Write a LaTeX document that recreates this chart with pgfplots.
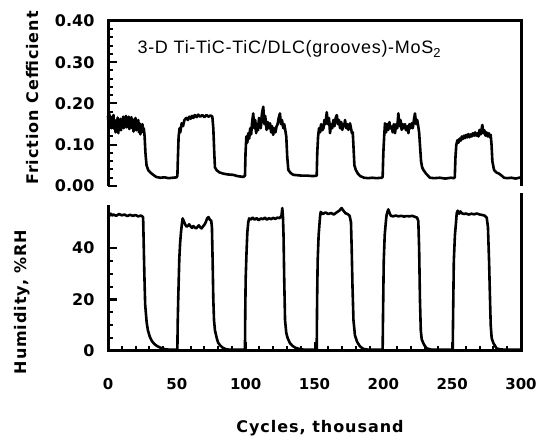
\documentclass[border=0pt]{standalone}
\usepackage{pgfplots}
\pgfplotsset{compat=1.18}
\usepackage{fontspec}
\setmainfont{DejaVu Sans}
\newfontfamily\helv[LetterSpace=4]{Liberation Sans}
\newfontfamily\lab[LetterSpace=6]{DejaVu Sans}
\begin{document}
\begin{tikzpicture}
\path[use as bounding box] (0,0) rectangle (543pt,436pt);
% ---------------- top panel: friction ----------------
\begin{axis}[
  at={(108pt,250pt)}, anchor=south west, scale only axis,
  width=413pt, height=165pt,
  xmin=0, xmax=300, ymin=0, ymax=0.40,
  axis line style={draw=none},
  xtick=\empty,
  ytick={0,0.1,0.2,0.3,0.4}, yticklabels={0.00,0.10,0.20,0.30,0.40},
  minor y tick num=4,
  ytick pos=left,
  tick align=inside,
  major tick length=9pt, minor tick length=5pt,
  tick style={black, line width=2pt},
  yticklabel style={font=\fontsize{16}{16}\selectfont\bfseries, xshift=-10pt},
  clip=false,
]
\addplot[black, line width=2.6pt, line join=round] coordinates {
(0,0.17) (0.5,0.15) (1,0.175) (1.5,0.145) (2,0.165) (2.5,0.14) (3,0.168) (3.5,0.15) (4,0.172) (4.5,0.138) (5,0.16) (5.5,0.13) (6,0.158) (6.5,0.142) (7,0.166) (7.5,0.128) (8,0.155) (8.5,0.14) (9,0.163) (9.5,0.135) (10,0.16) (10.5,0.145) (11,0.168) (11.5,0.14) (12,0.162) (12.5,0.148) (13,0.17) (13.5,0.142) (14,0.165) (14.5,0.15) (15,0.168) (15.5,0.138) (16,0.16) (16.5,0.145) (17,0.167) (17.5,0.14) (18,0.162) (18.5,0.132) (19,0.158) (19.5,0.14) (20,0.165) (20.5,0.135) (21,0.155) (21.5,0.14) (22,0.16) (22.5,0.13) (23,0.152) (23.5,0.125) (24,0.148) (24.5,0.13) (25,0.15) (25.5,0.135) (26,0.14) (26.6,0.12) (27.2,0.08) (28,0.05) (29.3,0.038) (31,0.032) (32.9,0.027) (35,0.022) (38,0.02) (41,0.021) (44,0.019) (47,0.02) (49.9,0.021)
(50.4,0.025) (50.8,0.07) (51.3,0.12) (52,0.14) (52.5,0.13) (53.5,0.152) (54.5,0.145) (55.5,0.16) (56.9,0.165) (58,0.16) (59,0.168) (60,0.163) (61,0.17) (62,0.165) (63,0.172) (64.4,0.167) (65.5,0.173) (67,0.168) (68.5,0.172) (70,0.167) (71.5,0.172) (73,0.168) (74.5,0.171) (75.8,0.168) (76.5,0.14) (77.2,0.08) (77.7,0.045) (79,0.038) (81,0.033) (83.7,0.03) (87,0.028) (91,0.027) (94,0.024) (98.3,0.022)
(99.5,0.025) (99.9,0.08) (100.5,0.12) (101.2,0.105) (101.9,0.128) (102.6,0.115) (103.3,0.14) (104,0.125) (104.7,0.155) (105.5,0.176) (106.2,0.14) (107,0.16) (107.6,0.128) (108.3,0.15) (109,0.135) (109.7,0.165) (110.4,0.16) (111,0.14) (111.8,0.175) (112.8,0.192) (113.5,0.15) (114.2,0.17) (115.2,0.136) (116,0.155) (116.8,0.14) (117.7,0.152) (118.5,0.13) (119.2,0.145) (120,0.124) (120.8,0.14) (121.6,0.13) (122.4,0.144) (123.2,0.15) (124,0.165) (124.9,0.176) (125.6,0.15) (126.4,0.16) (127.3,0.14) (128,0.15) (128.8,0.135) (129.5,0.12) (130.2,0.07) (131,0.039) (132.5,0.032) (134.6,0.027) (138,0.026) (141,0.025) (145,0.025) (149,0.024)
(151.6,0.025) (152,0.08) (152.6,0.12) (153.3,0.14) (154,0.13) (154.8,0.15) (155.6,0.135) (156.5,0.14) (157.2,0.16) (158,0.15) (158.9,0.179) (159.7,0.15) (160.5,0.165) (161.3,0.128) (162,0.15) (162.9,0.14) (163.7,0.16) (164.5,0.145) (165.4,0.165) (166.2,0.172) (167,0.15) (167.8,0.16) (168.6,0.14) (169.4,0.155) (170.2,0.136) (171,0.15) (171.6,0.145) (172.2,0.16) (173,0.14) (173.8,0.15) (174.6,0.136) (175.2,0.145) (175.8,0.152) (176.5,0.14) (177.2,0.128) (177.8,0.13) (178.4,0.09) (179,0.05) (180,0.039) (181.5,0.03) (183.2,0.024) (186,0.02) (189,0.019) (192,0.02) (195,0.019) (198.8,0.02)
(199.5,0.022) (200,0.08) (200.6,0.12) (201.2,0.152) (202,0.13) (202.8,0.15) (203.6,0.136) (204.4,0.155) (205.2,0.14) (206,0.144) (206.8,0.13) (207.6,0.15) (208.5,0.128) (209.3,0.15) (210.1,0.14) (210.9,0.176) (211.7,0.145) (212.5,0.16) (213.3,0.136) (214.1,0.15) (214.9,0.14) (215.7,0.15) (216.5,0.135) (217.4,0.145) (218.2,0.128) (219,0.15) (219.8,0.14) (220.6,0.152) (221.4,0.14) (222.2,0.16) (223,0.176) (223.8,0.15) (224.6,0.16) (225.4,0.144) (226,0.13) (226.6,0.1) (227.4,0.06) (228.2,0.045) (229.1,0.039) (231,0.03) (233.9,0.02) (237,0.019) (241,0.02) (245,0.018) (249,0.02) (251.4,0.019)
(251.9,0.022) (252.4,0.07) (253,0.1) (253.8,0.111) (254.6,0.105) (255.4,0.115) (256.2,0.11) (257,0.12) (257.8,0.114) (258.6,0.122) (259.4,0.116) (260.2,0.124) (261,0.118) (261.8,0.126) (262.6,0.118) (263.4,0.125) (264.2,0.12) (265,0.128) (265.9,0.122) (266.7,0.13) (267.5,0.122) (268.3,0.128) (269.1,0.12) (269.9,0.136) (270.7,0.125) (271.5,0.14) (271.9,0.148) (272.6,0.128) (273.4,0.135) (274.2,0.122) (275,0.13) (275.8,0.12) (276.6,0.128) (277.4,0.118) (278,0.124) (278.6,0.1) (279.2,0.06) (280.4,0.039) (282,0.033) (284,0.03) (286,0.025) (287.7,0.02) (290,0.019) (293,0.02) (296,0.018) (298.6,0.02) (300,0.021)
};
\draw[line width=3pt] (rel axis cs:0,0) -- (rel axis cs:0,1) -- (rel axis cs:1,1) -- (rel axis cs:1,0);
\node[anchor=west, font=\helv\fontsize{18}{18}\selectfont] at (rel axis cs:0.063,0.83) {3-D Ti-TiC-TiC/DLC(grooves)-MoS\raisebox{-0.35ex}{\fontsize{13}{13}\selectfont 2}};
\end{axis}
% ---------------- bottom panel: humidity ----------------
\begin{axis}[
  at={(108pt,85pt)}, anchor=south west, scale only axis,
  width=413pt, height=146pt,
  xmin=0, xmax=300, ymin=0, ymax=56.7,
  axis line style={draw=none},
  xtick={0,50,100,150,200,250,300},
  minor x tick num=4,
  ytick={0,20,40},
  minor y tick num=3,
  xtick pos=bottom, ytick pos=left,
  tick align=inside,
  major tick length=9pt, minor tick length=5pt,
  tick style={black, line width=2pt},
  yticklabel style={font=\fontsize{16}{16}\selectfont\bfseries, xshift=-10pt},
  xticklabel style={font=\fontsize{15}{15}\selectfont\bfseries, yshift=-24pt},
  /pgf/number format/assume math mode=true,
  clip=false,
]
\addplot[black, line width=2.6pt, line join=round] coordinates {
(0,53) (1,52.5) (2,53.3) (3,52.6) (4,53) (6,52.5) (8,53.2) (10,52.7) (12,53) (14,52.4) (16,52.9) (18,52.5) (20,52.8) (22,52.3) (24,52.6) (25.5,52) (25.8,45) (26.4,30) (27,18) (28.1,11) (29,8) (30.5,5.3) (32,3.8) (33.5,2.8) (35.4,2) (38,1.3) (40,0.9) (42.6,0.6) (46,0.5) (49.9,0.5)
(50.4,0.6) (50.6,10) (51,20) (51.5,30) (51.8,36) (52.4,42) (53,46) (53.6,49) (54.2,51.5) (55,50.5) (56,49.2) (57,48.3) (58,48.6) (59,49.2) (60,48.4) (61,47.8) (62,48.5) (63,48) (64,47.6) (65,48.2) (66,48.8) (67,48) (68,47.6) (69,48.4) (70,49) (71,50) (72,51.5) (73,52) (74,51) (75,50.5) (75.5,48) (76,35) (76.5,20) (77,12) (77.7,8) (79,5) (80,3.2) (81.4,2.2) (83.5,1.2) (86.2,0.6) (90,0.5) (94,0.5) (99,0.5)
(99.5,0.6) (99.7,15) (100,28) (100.6,38) (101.2,46) (101.9,50) (102.5,51.5) (103.5,51) (105,51.8) (106.5,51) (108,51.6) (109.5,50.8) (111,51.5) (112.5,51.2) (114,51.8) (115.5,51) (117,51.6) (118.5,51.2) (120,51.7) (121.5,51.3) (123,51.8) (124.5,51.6) (126,52.5) (126.6,55.5) (127.1,52) (127.5,45) (128,28) (128.6,12) (129.5,7) (130.5,5) (132.2,3) (134,2) (136,1.3) (139.5,0.7) (143,0.5) (147,0.5) (151.3,0.5)
(151.6,0.6) (151.9,20) (152.3,35) (153,45) (154,52) (154.5,54) (156,53.2) (158,53.8) (160,53.2) (162,53.6) (164,53) (166,53.8) (168,54.5) (169.7,55.5) (171,54.5) (172.5,53.5) (174,53.2) (175.5,52.5) (176.5,50) (177,40) (177.6,25) (178.3,12) (179.4,6) (181,3.5) (183,1.8) (185.5,0.8) (189,0.5) (194,0.5) (198.8,0.5)
(199.5,0.6) (199.8,15) (200.3,35) (201,45) (201.8,50) (202.4,53) (203.6,55) (204.6,53.5) (205.5,52.5) (207,52.3) (209,52.6) (211,52.3) (213,52.5) (215,52.2) (217,52.4) (219,52.3) (221,52.5) (223,52.1) (224.5,51.8) (225.4,50.5) (226,40) (226.6,20) (227.2,8) (227.9,4.5) (229.5,2.5) (231.5,1) (235,0.5) (240,0.5) (245,0.5) (250,0.5)
(250.4,0.6) (250.7,15) (251.2,35) (252,45) (252.8,50) (253.3,53.5) (254,54.5) (255,53.3) (256,54.2) (257,53.5) (258.5,53.2) (260,53.4) (262,53) (264,53.3) (266,53.1) (268,53.4) (270,53) (272,52.8) (273.5,52.6) (275.1,51.8) (276,48) (276.8,35) (277.5,20) (278,10) (278.7,5) (280,3) (282.3,1) (285,0.6) (290,0.5) (295,0.5) (299.5,0.5)
};
\draw[line width=3pt] (rel axis cs:0,1) -- (rel axis cs:0,0) -- (rel axis cs:1,0) -- (rel axis cs:1,1.08);
\end{axis}
% ---------------- labels ----------------
\node[rotate=90, font=\lab\fontsize{16}{16}\selectfont\bfseries] at (33pt,338pt) {Friction Cefficient};
\node[rotate=90, font=\lab\fontsize{16}{16}\selectfont\bfseries] at (22pt,134pt) {Humidity, \%RH};
\node[anchor=base, font=\lab\fontsize{16}{16}\selectfont\bfseries] at (320pt,3pt) {Cycles, thousand};
\end{tikzpicture}
\end{document}
